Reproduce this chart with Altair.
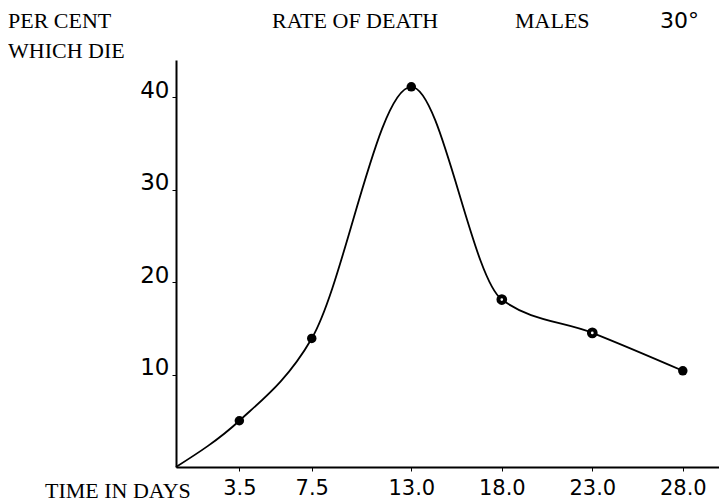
import altair as alt
import pandas as pd

# data
days = [0.0, 3.5, 7.5, 13.0, 18.0, 23.0, 28.0]
percent = [0.0, 5.0, 13.9, 41.1, 18.1, 14.5, 10.4]
ring_days = [18.0, 23.0]          # points drawn as rings in the original
x_ticks = [3.5, 7.5, 13.0, 18.0, 23.0, 28.0]
y_ticks = [10, 20, 30, 40]

df = pd.DataFrame({"day": days, "pct": percent})
pts = df.iloc[1:]
solid = pts[~pts["day"].isin(ring_days)]
rings = pts[pts["day"].isin(ring_days)]

W, H = 543, 407
FONT = "Liberation Serif"
NUMFONT = "DejaVu Sans"

xscale = alt.Scale(domain=[0, 30], nice=False, zero=True)
yscale = alt.Scale(domain=[0, 44], nice=False, zero=True)

xaxis = alt.Axis(values=x_ticks, format=".1f", title=None, grid=False,
                 domainColor="black", domainWidth=2, tickColor="black", tickSize=4,
                 labelFont=NUMFONT, labelFontSize=21, labelColor="black",
                 labelPadding=6, labelBaseline="top")
yaxis = alt.Axis(values=y_ticks, format="d", title=None, grid=False,
                 domainColor="black", domainWidth=2, tickColor="black", tickSize=4,
                 labelFont=NUMFONT, labelFontSize=23, labelColor="black",
                 labelPadding=3, labelBaseline="alphabetic")

line = alt.Chart(df).mark_line(interpolate="monotone", color="black", strokeWidth=1.8).encode(
    x=alt.X("day:Q", scale=xscale, axis=xaxis),
    y=alt.Y("pct:Q", scale=yscale, axis=yaxis),
)
solid_pts = alt.Chart(solid).mark_point(filled=True, color="black", size=90, opacity=1).encode(
    x=alt.X("day:Q", scale=xscale),
    y=alt.Y("pct:Q", scale=yscale),
)
ring_pts = alt.Chart(rings).mark_point(filled=False, color="black", fill="white",
                                       size=45, strokeWidth=4, opacity=1).encode(
    x=alt.X("day:Q", scale=xscale),
    y=alt.Y("pct:Q", scale=yscale),
)

def label(txt, x, y, size=22, font=FONT, align="left"):
    return alt.Chart(pd.DataFrame({"t": [txt]})).mark_text(
        font=font, fontSize=size, align=align, baseline="middle", color="black"
    ).encode(text="t:N", x=alt.value(x), y=alt.value(y))

texts = [
    label("PER CENT", -168, -39),
    label("WHICH DIE", -168, -9),
    label("RATE OF DEATH", 96, -39),
    label("MALES", 339, -39),
    label("30°", 484, -39, font=NUMFONT),
    label("TIME IN DAYS", -131, H + 24),
]

chart = alt.layer(line, solid_pts, ring_pts, *texts).properties(
    width=W, height=H,
    autosize=alt.AutoSizeParams(type="none"),
    padding={"left": 168, "top": 52, "right": 0, "bottom": 38},
    background="white",
).configure_view(stroke=None)

chart.save("out.html", embed_options={"renderer": "svg", "actions": False})
